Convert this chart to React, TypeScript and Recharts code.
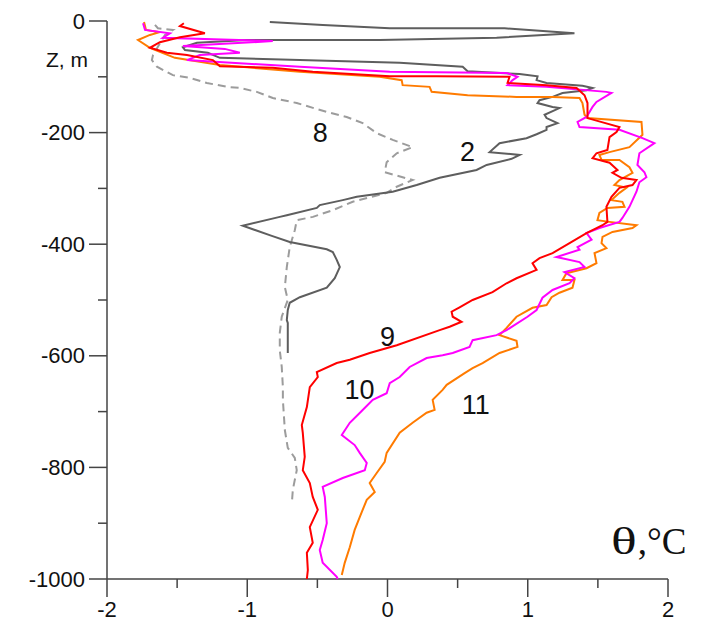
import { ScatterChart, Scatter, XAxis, YAxis, ReferenceDot } from 'recharts';

type P = [number, number]; // [theta, z]

// profile 2 (dark grey)
const profile2: P[] = [
  [-0.839, -2], [-0.461, -7], [0.016, -13], [0.835, -13], [1.333, -22], [0.778, -30],
  [-0.056, -34], [-1.003, -34], [-1.359, -39], [-1.459, -47], [-1.444, -52], [-1.281, -57],
  [-1.195, -66], [0.087, -75], [0.536, -82], [0.571, -90], [0.942, -95], [1.07, -99],
  [1.063, -106], [1.134, -111], [1.39, -116], [1.462, -120], [1.419, -124], [1.248, -129],
  [1.177, -136], [1.084, -142], [1.07, -147], [1.177, -154], [1.226, -156], [1.12, -168],
  [1.134, -174], [1.212, -183], [1.134, -190], [1.134, -195], [1.063, -203], [0.991, -210],
  [0.799, -219], [0.728, -235], [0.942, -240], [0.885, -247], [0.707, -258], [0.635, -267],
  [0.372, -281], [0.208, -294], [0.037, -306], [-0.219, -315], [-0.319, -321], [-0.483, -330],
  [-0.504, -335], [-0.718, -348], [-0.768, -351], [-1.032, -367], [-0.825, -385], [-0.697, -396],
  [-0.433, -409], [-0.39, -414], [-0.362, -428], [-0.34, -441], [-0.376, -461], [-0.433, -478],
  [-0.625, -495], [-0.697, -505], [-0.711, -518], [-0.718, -536], [-0.711, -541], [-0.711, -595],
];

// profile 8 (light grey, dashed)
const profile8: P[] = [
  [-1.658, -7], [-1.637, -13], [-1.53, -16], [-1.587, -25], [-1.672, -61], [-1.68, -70],
  [-1.644, -82], [-1.53, -97], [-1.409, -102], [-1.288, -111], [-1.145, -118], [-1.053, -120],
  [-0.932, -127], [-0.818, -138], [-0.647, -147], [-0.433, -163], [-0.291, -172], [-0.177, -183],
  [-0.077, -201], [0.037, -213], [0.179, -226], [0.066, -237], [-0.006, -253], [-0.02, -271],
  [0.179, -285], [0.066, -297], [-0.006, -308], [-0.248, -324], [-0.39, -339], [-0.532, -351],
  [-0.647, -357], [-0.661, -375], [-0.697, -405], [-0.718, -441], [-0.732, -477], [-0.711, -500],
  [-0.754, -530], [-0.768, -559], [-0.768, -590], [-0.754, -620], [-0.746, -656], [-0.746, -679],
  [-0.732, -733], [-0.711, -765], [-0.661, -783], [-0.647, -805], [-0.675, -840], [-0.682, -864],
];

// profile 9 (red)
const profile9: P[] = [
  [-1.452, -4], [-1.48, -9], [-1.302, -22], [-1.48, -29], [-1.623, -38], [-1.694, -48],
  [-1.573, -57], [-1.43, -61], [-1.245, -70], [-1.195, -81], [-0.818, -84], [-0.533, -91],
  [0.016, -99], [0.35, -99], [0.87, -100], [0.856, -111], [1.134, -115], [1.348, -120],
  [1.405, -133], [1.426, -147], [1.426, -174], [1.654, -190], [1.633, -199], [1.583, -208],
  [1.568, -231], [1.49, -237], [1.462, -246], [1.583, -254], [1.64, -267], [1.604, -272],
  [1.668, -281], [1.775, -285], [1.747, -294], [1.654, -299], [1.597, -315], [1.561, -333],
  [1.568, -360], [1.533, -366], [1.419, -380], [1.298, -398], [1.177, -416], [1.084, -425],
  [1.034, -434], [1.063, -446], [0.92, -461], [0.849, -470], [0.749, -486], [0.607, -500],
  [0.514, -513], [0.457, -521], [0.465, -530], [0.528, -539], [0.443, -548], [0.372, -554],
  [0.066, -581], [-0.127, -595], [-0.269, -607], [-0.362, -613], [-0.504, -629], [-0.497, -638],
  [-0.554, -656], [-0.575, -692], [-0.611, -724], [-0.604, -738], [-0.59, -781], [-0.604, -805],
  [-0.554, -828], [-0.533, -853], [-0.497, -876], [-0.554, -907], [-0.533, -935], [-0.575, -953],
  [-0.568, -984], [-0.575, -1000],
];

// profile 10 (magenta)
const profile10: P[] = [
  [-1.743, -4], [-1.729, -16], [-1.551, -22], [-1.601, -30], [-0.818, -36], [-1.459, -45],
  [-1.16, -50], [-1.053, -57], [-1.338, -61], [-1.43, -70], [-1.231, -73], [-0.625, -82],
  [0.016, -91], [0.849, -93], [0.927, -100], [0.892, -106], [0.856, -115], [1.134, -118],
  [1.561, -127], [1.597, -129], [1.49, -145], [1.462, -154], [1.419, -172], [1.355, -181],
  [1.369, -190], [1.654, -195], [1.818, -210], [1.903, -219], [1.796, -237], [1.782, -258],
  [1.832, -271], [1.846, -280], [1.796, -289], [1.775, -306], [1.725, -333], [1.675, -353],
  [1.654, -360], [1.511, -371], [1.419, -380], [1.455, -392], [1.355, -405], [1.369, -410],
  [1.205, -423], [1.369, -432], [1.405, -441], [1.262, -450], [1.333, -461], [1.298, -470],
  [1.177, -482], [1.105, -496], [1.063, -518], [0.998, -530], [0.849, -554], [0.778, -563],
  [0.607, -572], [0.585, -584], [0.465, -595], [0.393, -599], [0.279, -604], [0.158, -620],
  [0.087, -638], [0.016, -649], [-0.006, -667], [-0.105, -679], [-0.177, -697], [-0.269, -720],
  [-0.326, -742], [-0.234, -760], [-0.198, -774], [-0.148, -792], [-0.162, -805], [-0.319, -819],
  [-0.462, -835], [-0.447, -853], [-0.433, -900], [-0.462, -930], [-0.483, -948], [-0.462, -971],
  [-0.362, -996], [-0.355, -1000],
];

// profile 11 (orange)
const profile11: P[] = [
  [-1.736, -2], [-1.722, -16], [-1.623, -20], [-1.694, -25], [-1.779, -34], [-1.694, -48],
  [-1.516, -66], [-1.195, -79], [-0.625, -91], [-0.056, -100], [0.101, -106], [0.108, -115],
  [0.3, -118], [0.315, -127], [0.571, -133], [0.92, -136], [1.177, -136], [1.369, -138],
  [1.39, -147], [1.405, -168], [1.426, -174], [1.811, -181], [1.818, -204], [1.725, -226],
  [1.583, -235], [1.511, -240], [1.526, -249], [1.654, -249], [1.725, -262], [1.747, -272],
  [1.654, -285], [1.618, -294], [1.704, -299], [1.654, -308], [1.597, -321], [1.675, -324],
  [1.69, -333], [1.568, -335], [1.511, -344], [1.497, -357], [1.583, -360], [1.775, -366],
  [1.747, -371], [1.604, -378], [1.533, -387], [1.526, -398], [1.561, -407], [1.476, -416],
  [1.49, -434], [1.419, -443], [1.276, -452], [1.248, -464], [1.333, -464], [1.319, -478],
  [1.226, -487], [1.17, -495], [1.134, -509], [1.034, -514], [0.92, -530], [0.849, -550],
  [0.799, -563], [0.92, -573], [0.927, -584], [0.799, -595], [0.678, -613], [0.607, -622],
  [0.55, -631], [0.422, -652], [0.393, -661], [0.322, -679], [0.336, -697], [0.279, -702],
  [0.179, -720], [0.087, -738], [-0.006, -774], [-0.02, -790], [-0.077, -810], [-0.127, -828],
  [-0.091, -844], [-0.148, -858], [-0.198, -889], [-0.234, -912], [-0.269, -943], [-0.305, -971],
  [-0.326, -993],
];

const xTicks = [-2, -1.5, -1, -0.5, 0, 0.5, 1, 1.5, 2];
const yTicks = [0, -100, -200, -300, -400, -500, -600, -700, -800, -900, -1000];

const curveLabels = [
  { text: '8', t: -0.48, z: -201 },
  { text: '2', t: 0.57, z: -235 },
  { text: '9', t: 0.0, z: -566 },
  { text: '10', t: -0.2, z: -661 },
  { text: '11', t: 0.63, z: -688 },
];

const series = [
  { id: 's8', pts: profile8, color: '#9c9c9c', dash: '8 5' },
  { id: 's2', pts: profile2, color: '#5e5e5e' },
  { id: 's11', pts: profile11, color: '#ff7b00' },
  { id: 's10', pts: profile10, color: '#ff00ff' },
  { id: 's9', pts: profile9, color: '#ff0000' },
];

const FONT = '"Liberation Sans", Arial, sans-serif';
const AXIS = '#444';

const toRows = (pts: P[]) => pts.map(([t, z]) => ({ t, z }));

const YTick = (props: any) => {
  const { x, y, payload } = props;
  const v = payload.value;
  const major = v % 200 === 0;
  return (
    <g>
      <line x1={x} x2={x - (major ? 18 : 9)} y1={y} y2={y} stroke={AXIS} strokeWidth={1.5} />
      {major && (
        <text x={x - 22} y={y} textAnchor="end" dominantBaseline="central" fontSize={22} fontFamily={FONT} fill="#111">
          {v}
        </text>
      )}
    </g>
  );
};

const XTick = (props: any) => {
  const { x, y, payload } = props;
  const v = payload.value;
  const major = Number.isInteger(v);
  return (
    <g>
      <line x1={x} x2={x} y1={y} y2={y + (major ? 18 : 9)} stroke={AXIS} strokeWidth={1.5} />
      {major && (
        <text x={x} y={y + 30} textAnchor="middle" dominantBaseline="central" fontSize={22} fontFamily={FONT} fill="#111">
          {v}
        </text>
      )}
    </g>
  );
};

const NoDot = () => <g />;

export default function App() {
  return (
    <div style={{ position: 'relative', width: 699, height: 619, background: '#fff' }}>
      <ScatterChart width={699} height={619} margin={{ top: 13, right: 39, bottom: 0, left: 0 }}>
        <XAxis
          type="number"
          dataKey="t"
          domain={[-2, 2]}
          ticks={xTicks}
          height={48}
          tickSize={0}
          tickMargin={0}
          tickLine={false}
          tick={<XTick />}
          axisLine={{ stroke: AXIS, strokeWidth: 1.5 }}
          interval={0}
        />
        <YAxis
          type="number"
          dataKey="z"
          domain={[-1000, 0]}
          ticks={yTicks}
          width={99}
          tickSize={0}
          tickMargin={0}
          tickLine={false}
          tick={<YTick />}
          axisLine={{ stroke: AXIS, strokeWidth: 1.5 }}
          interval={0}
        />
        {series.map((s) => (
          <Scatter
            key={s.id}
            data={toRows(s.pts)}
            fill={s.color}
            line={{ stroke: s.color, strokeWidth: 2, strokeDasharray: s.dash }}
            lineType="joint"
            shape={<NoDot />}
            isAnimationActive={false}
          />
        ))}
        {curveLabels.map((l) => (
          <ReferenceDot
            key={l.text}
            x={l.t}
            y={l.z}
            r={0}
            shape={(p: any) => (
              <text x={p.cx} y={p.cy} textAnchor="middle" dominantBaseline="central" fontSize={27} fontFamily={FONT} fill="#111">
                {l.text}
              </text>
            )}
          />
        ))}
      </ScatterChart>
      <div style={{ position: 'absolute', left: 38, top: 40, fontFamily: FONT, fontSize: 21, color: '#111', lineHeight: '24px' }}>
        Z, m
      </div>
      <div style={{ position: 'absolute', left: 603, top: 514, fontFamily: '"Liberation Serif", "Times New Roman", serif', fontSize: 37, color: '#111', lineHeight: '40px', whiteSpace: 'nowrap' }}>
        <span style={{ display: 'inline-block', transform: 'scaleX(1.45)', transformOrigin: 'left center', marginRight: 9 }}>θ</span>,°C
      </div>
    </div>
  );
}
